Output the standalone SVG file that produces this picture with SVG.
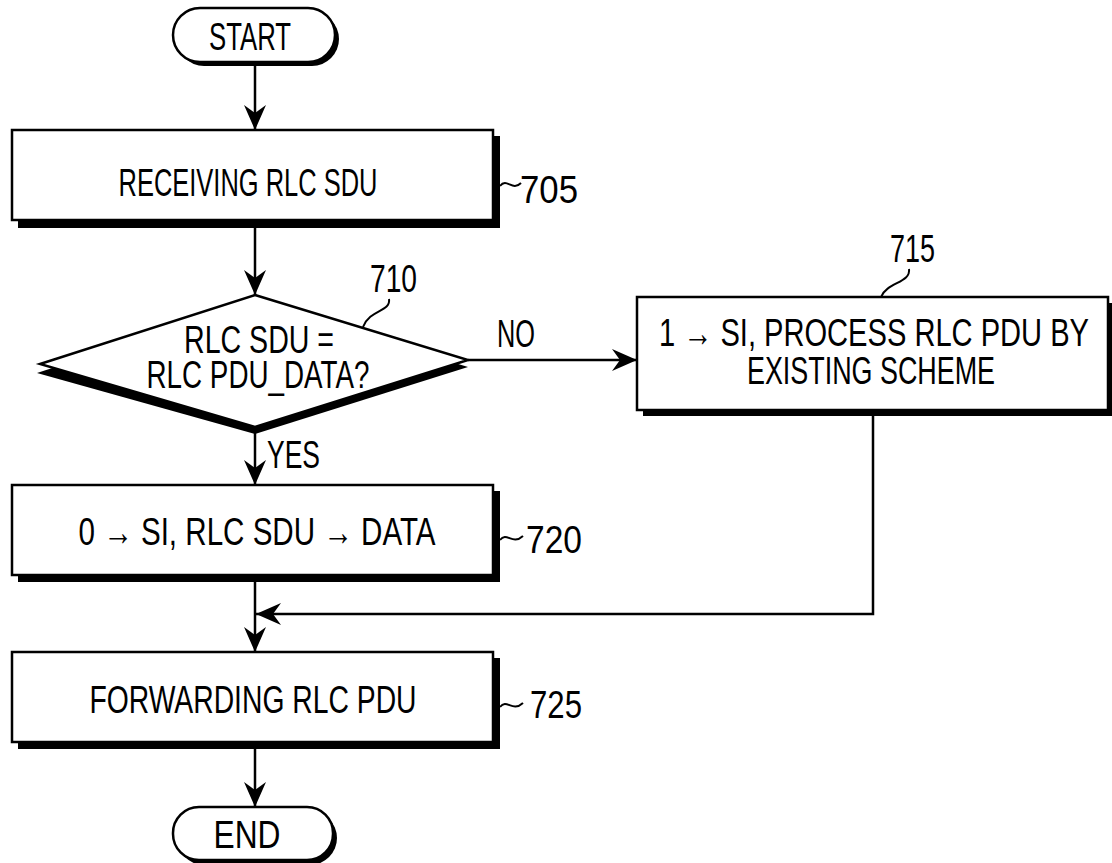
<svg xmlns="http://www.w3.org/2000/svg" width="1112" height="863" viewBox="0 0 1112 863">
<defs>
<marker id="ah" markerUnits="userSpaceOnUse" markerWidth="28" markerHeight="24" refX="26" refY="12" orient="auto">
<path d="M26,12 L1,1 L9,12 L1,23 Z" fill="#000"/>
</marker>
<style>
.t{font-family:"Liberation Sans","Arial",sans-serif;font-size:38px;fill:#000}
.m{text-anchor:middle}
.box{fill:#fff;stroke:#000;stroke-width:2.5}
.sh{fill:#000}
.ln{fill:none;stroke:#000;stroke-width:2.5}
.lead{fill:none;stroke:#000;stroke-width:2}
</style>
</defs>
<rect width="1112" height="863" fill="#fff"/>
<g id="connectors">
<line class="ln" x1="255" y1="64" x2="255" y2="130" marker-end="url(#ah)"/>
<line class="ln" x1="255" y1="226" x2="255" y2="295" marker-end="url(#ah)"/>
<line class="ln" x1="468" y1="360" x2="637" y2="360" marker-end="url(#ah)"/>
<line class="ln" x1="255" y1="430" x2="255" y2="485" marker-end="url(#ah)"/>
<line class="ln" x1="255" y1="580" x2="255" y2="652" marker-end="url(#ah)"/>
<polyline class="ln" points="873,414 873,614 256,614" marker-end="url(#ah)"/>
<line class="ln" x1="255" y1="746" x2="255" y2="807" marker-end="url(#ah)"/>
<text class="t" x="497" y="347" textLength="38" lengthAdjust="spacingAndGlyphs">NO</text>
<text class="t" x="267" y="468" textLength="53" lengthAdjust="spacingAndGlyphs">YES</text>
</g>
<g id="start">
<rect class="sh" x="177" y="12" width="162" height="54" rx="27"/>
<rect class="box" x="173" y="8" width="162" height="54" rx="27"/>
<text class="t m" x="250" y="50" textLength="82" lengthAdjust="spacingAndGlyphs">START</text>
</g>
<g id="n705">
<rect class="sh" x="18" y="136" width="482" height="92"/>
<rect class="box" x="12" y="130" width="481" height="90"/>
<text class="t m" x="248" y="196" textLength="259" lengthAdjust="spacingAndGlyphs">RECEIVING RLC SDU</text>
<path class="lead" d="M500,186 C507,177 512,192 521,183"/>
<text class="t" x="520" y="203" textLength="58" lengthAdjust="spacingAndGlyphs">705</text>
</g>
<g id="n710">
<polygon class="sh" points="255,302 468,367 255,434 37,373"/>
<polygon class="box" points="255,295 468,360 255,427 40,364"/>
<text class="t m" x="259" y="353" textLength="150" lengthAdjust="spacingAndGlyphs">RLC SDU =</text>
<text class="t m" x="258" y="388" textLength="223" lengthAdjust="spacingAndGlyphs">RLC PDU_DATA?</text>
<path class="lead" d="M389,299 C391,312 370,309 363,327"/>
<text class="t" x="370" y="292" textLength="47" lengthAdjust="spacingAndGlyphs">710</text>
</g>
<g id="n715">
<rect class="sh" x="643" y="303" width="469" height="113"/>
<rect class="box" x="637" y="297" width="471" height="113"/>
<text class="t m" x="874" y="346" textLength="430" lengthAdjust="spacingAndGlyphs">1 →  SI, PROCESS RLC PDU BY</text>
<text class="t m" x="871" y="384" textLength="248" lengthAdjust="spacingAndGlyphs">EXISTING SCHEME</text>
<path class="lead" d="M909,269 C911,283 887,282 881,297"/>
<text class="t" x="890" y="262" textLength="45" lengthAdjust="spacingAndGlyphs">715</text>
</g>
<g id="n720">
<rect class="sh" x="18" y="491" width="482" height="91"/>
<rect class="box" x="12" y="485" width="481" height="90"/>
<text class="t m" x="257" y="545" textLength="357" lengthAdjust="spacingAndGlyphs">0 → SI, RLC SDU → DATA</text>
<path class="lead" d="M500,540 C507,531 512,546 523,536"/>
<text class="t" x="526" y="553" textLength="56" lengthAdjust="spacingAndGlyphs">720</text>
</g>
<g id="n725">
<rect class="sh" x="18" y="658" width="482" height="91"/>
<rect class="box" x="12" y="652" width="481" height="90"/>
<text class="t m" x="253" y="713" textLength="327" lengthAdjust="spacingAndGlyphs">FORWARDING RLC PDU</text>
<path class="lead" d="M500,707 C507,698 512,713 523,703"/>
<text class="t" x="530" y="718" textLength="52" lengthAdjust="spacingAndGlyphs">725</text>
</g>
<g id="end">
<rect class="sh" x="177" y="811" width="160" height="54" rx="27"/>
<rect class="box" x="173" y="807" width="160" height="53" rx="26"/>
<text class="t m" x="247" y="848" textLength="67" lengthAdjust="spacingAndGlyphs">END</text>
</g>
</svg>
